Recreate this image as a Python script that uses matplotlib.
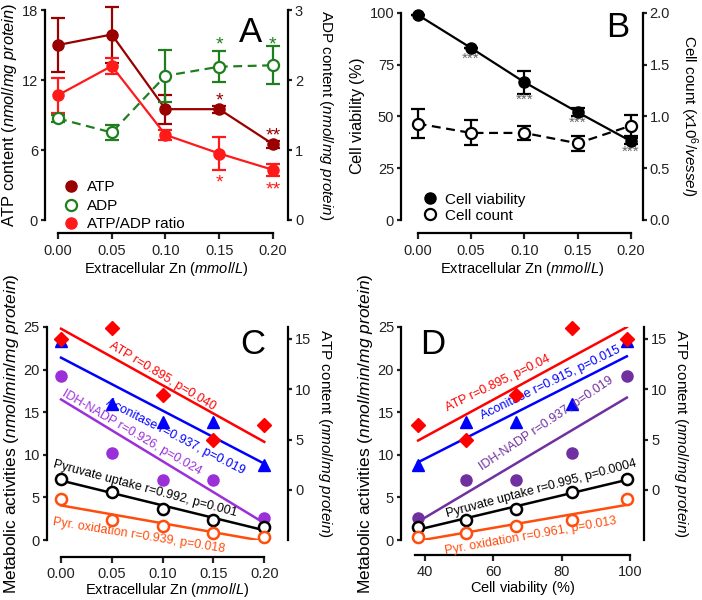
import numpy as np
import matplotlib
matplotlib.use("Agg")
import matplotlib.pyplot as plt
from matplotlib.lines import Line2D

plt.rcParams["font.family"] = ["Liberation Sans", "DejaVu Sans"]
plt.rcParams["mathtext.fontset"] = "custom"
plt.rcParams["mathtext.rm"] = "Liberation Sans"
plt.rcParams["mathtext.it"] = "Liberation Sans:italic"
plt.rcParams["font.size"] = 10

zn = [0.00, 0.05, 0.10, 0.15, 0.20]
zn_ticks = ["0.00", "0.05", "0.10", "0.15", "0.20"]

# panel A
atp = [15.0, 15.9, 9.5, 9.5, 6.5]
atp_err = [2.3, 2.4, 1.25, 0.3, 0.3]
adp = [1.45, 1.25, 2.06, 2.19, 2.21]
adp_err = [0.05, 0.1, 0.37, 0.22, 0.27]
ratio = [10.7, 13.2, 7.3, 5.7, 4.3]
ratio_err = [1.5, 0.7, 0.4, 1.4, 0.5]

# panel B
viability = [99.0, 83.0, 66.5, 52.0, 38.0]
viability_err = [0.0, 0.0, 5.5, 2.0, 1.5]
cell_count = [0.93, 0.84, 0.84, 0.74, 0.91]
cell_count_err = [0.14, 0.12, 0.07, 0.07, 0.10]
viability_star_y = [78.0, 58.0, 47.0, 33.0]

# panels C and D
atp_c = [15.0, 16.1, 9.4, 5.0, 6.5]
aconitase = [23.3, 16.0, 13.9, 13.9, 8.8]
idh_nadp = [19.2, 10.2, 7.1, 7.1, 2.6]
pyr_uptake = [7.2, 5.6, 3.6, 2.4, 1.5]
pyr_oxidation = [4.8, 2.3, 1.6, 0.8, 0.3]

W, H = 702, 600
fig = plt.figure(figsize=(7.02, 6.0), dpi=100)


def box(x0, x1, ytop, ybot):
    return [x0 / W, 1 - ybot / H, (x1 - x0) / W, (ybot - ytop) / H]


def style(ax, offset):
    ax.spines["top"].set_visible(False)
    ax.spines["right"].set_visible(False)
    for s in ["left", "bottom"]:
        ax.spines[s].set_linewidth(1.6)
    ax.spines["bottom"].set_position(("outward", offset))
    ax.tick_params(axis="x", width=1.6, length=4, labelsize=10.5, colors="#222222")
    ax.tick_params(axis="y", width=1.6, length=3, pad=2, labelsize=10.5, colors="#222222")


def style_right(ax2):
    ax2.spines["top"].set_visible(False)
    ax2.spines["left"].set_visible(False)
    ax2.spines["bottom"].set_visible(False)
    ax2.spines["right"].set_linewidth(1.6)
    ax2.tick_params(width=1.6, length=3, pad=2, labelsize=10.5, colors="#222222")


xlab_zn = r"Extracellular Zn $\mathit{(mmol/L)}$"

# ---------------- A ----------------
dark_red = "#990000"
green = "#1f7f1f"
red = "#ff1a1a"
axA = fig.add_axes(box(45, 288, 10, 220))
style(axA, 9.5)
axA.set_xlim(-0.0121, 0.214)
axA.set_ylim(0, 18)
axA.spines["bottom"].set_bounds(0, 0.2)
axA.set_xticks(zn, zn_ticks)
axA.set_yticks([0, 6, 12, 18])
axA.errorbar(zn, atp, yerr=atp_err, color=dark_red, marker="o", ms=8, lw=1.6,
             capsize=5, capthick=1.6, elinewidth=1.6, clip_on=False, zorder=3)
axA.errorbar(zn, ratio, yerr=ratio_err, color=red, marker="o", ms=8, lw=1.6,
             capsize=5, capthick=1.6, elinewidth=1.6, clip_on=False, zorder=3)
axA.set_ylabel(r"ATP content $\mathit{(nmol/mg\ protein)}$", fontsize=11.8, labelpad=2)
axA.set_xlabel(xlab_zn, fontsize=10.5, labelpad=2)
axA2 = axA.twinx()
style_right(axA2)
axA2.set_ylim(0, 3)
axA2.set_yticks([0, 1, 2, 3])
axA2.errorbar(zn, adp, yerr=adp_err, color=green, marker="o", mfc="white", mec=green,
              mew=1.6, ms=8, lw=1.6, ls=(0, (4, 2.5)), capsize=5, capthick=1.6,
              elinewidth=1.6, clip_on=False, zorder=3)
axA2.set_ylabel(r"ADP content $\mathit{(nmol/mg\ protein)}$", fontsize=11,
                rotation=270, va="bottom", labelpad=10)
axA.text(0.179, 16.1, "A", fontsize=25, ha="center", va="center")
for xi, yi, s in [(0.15, 10.2, "*"), (0.20, 7.2, "**")]:
    axA.text(xi, yi, s, color=dark_red, fontsize=14, ha="center", va="center")
for xi, yi, s in [(0.15, 3.2, "*"), (0.20, 2.6, "**")]:
    axA.text(xi, yi, s, color=red, fontsize=14, ha="center", va="center")
for xi, yi, s in [(0.15, 2.5, "*"), (0.20, 2.5, "*")]:
    axA2.text(xi, yi, s, color=green, fontsize=14, ha="center", va="center")
hA = [Line2D([], [], color=dark_red, marker="o", ls="none", ms=8),
      Line2D([], [], color=green, marker="o", mfc="white", mew=1.6, ls="none", ms=8),
      Line2D([], [], color=red, marker="o", ls="none", ms=8)]
axA.legend(hA, ["ATP", "ADP", "ATP/ADP ratio"], loc="lower left", frameon=False,
           bbox_to_anchor=(0.02, -0.12), handlelength=1, handletextpad=0.5,
           labelspacing=0.3, fontsize=11)

# ---------------- B ----------------
axB = fig.add_axes(box(401, 642.7, 12.7, 220))
style(axB, 9.5)
axB.set_xlim(-0.0156, 0.211)
axB.set_ylim(0, 100)
axB.spines["bottom"].set_bounds(0, 0.2)
axB.set_xticks(zn, zn_ticks)
axB.set_yticks([0, 25, 50, 75, 100])
axB.errorbar(zn, viability, yerr=viability_err, color="black", marker="o", ms=8, lw=1.6,
             capsize=5, capthick=1.6, elinewidth=1.6, clip_on=False, zorder=3)
axB.set_ylabel(r"Cell viability $\mathit{(\%)}$", fontsize=11.8, labelpad=2)
axB.set_xlabel(xlab_zn, fontsize=10.5, labelpad=2)
axB2 = axB.twinx()
style_right(axB2)
axB2.set_ylim(0, 2)
axB2.set_yticks([0, 0.5, 1.0, 1.5, 2.0])
axB2.errorbar(zn, cell_count, yerr=cell_count_err, color="black", marker="o", mfc="white",
              mew=1.6, ms=8, lw=1.6, ls=(0, (4, 2.5)), capsize=5, capthick=1.6,
              elinewidth=1.6, clip_on=False, zorder=3)
axB2.set_ylabel(r"Cell count $\mathit{(x10^6/vessel)}$", fontsize=11,
                rotation=270, va="bottom", labelpad=6)
axB.text(0.188, 93, "B", fontsize=25, ha="center", va="center")
for xi, yi in zip(zn[1:], viability_star_y):
    axB.text(xi, yi, "***", color="#666666", fontsize=11, ha="center", va="center")
hB = [Line2D([], [], color="black", marker="o", ls="none", ms=8),
      Line2D([], [], color="black", marker="o", mfc="white", mew=1.6, ls="none", ms=8)]
axB.legend(hB, ["Cell viability", "Cell count"], loc="lower left", frameon=False,
           bbox_to_anchor=(0.03, -0.08), handlelength=1, handletextpad=0.5,
           labelspacing=0.15, fontsize=11)

# ---------------- C and D ----------------
c_red = "#ff0000"
c_blue = "#0000ff"
c_orange = "#ff4d0d"
ylab_C = r"Metabolic activities $\mathit{(nmol/min/mg\ protein)}$"
ylab_R = r"ATP content $\mathit{(nmol/mg\ protein)}$"


def metab_panel(axbox, x, xlim, xbounds, xticks, xticklabels, offset, purple, notes,
                letter, letter_pos, xlabel):
    ax = fig.add_axes(axbox)
    style(ax, offset)
    ax.set_xlim(*xlim)
    ax.set_ylim(0, 25)
    ax.spines["bottom"].set_bounds(*xbounds)
    ax.set_xticks(xticks, xticklabels)
    ax.set_yticks([0, 5, 10, 15, 20, 25])
    ax2 = ax.twinx()
    style_right(ax2)
    ax2.set_ylim(-4.97, 16.19)
    ax2.set_yticks([0, 5, 10, 15])
    xs = np.array([min(x), max(x)])
    series = [
        (ax, aconitase, c_blue, dict(marker="^", ms=8, color=c_blue)),
        (ax, idh_nadp, purple, dict(marker="o", ms=8, color=purple)),
        (ax, pyr_uptake, "black", dict(marker="o", ms=8, mfc="white", mec="black", mew=1.8)),
        (ax, pyr_oxidation, c_orange, dict(marker="o", ms=8, mfc="white", mec=c_orange, mew=1.8)),
        (ax2, atp_c, c_red, dict(marker="D", ms=7, color=c_red)),
    ]
    for a, y, col, mk in series:
        k, b = np.polyfit(x, y, 1)
        a.plot(xs, k * xs + b, color=col, lw=1.8, zorder=2)
        a.plot(x, y, ls="none", clip_on=False, zorder=3, **mk)
    for (tx, ty, s, col, rot) in notes:
        ax.text(tx, ty, s, color=col, fontsize=9, rotation=rot, ha="center", va="center",
                rotation_mode="anchor")
    ax.text(letter_pos[0], letter_pos[1], letter, fontsize=25, ha="center", va="center")
    ax.set_ylabel(ylab_C, fontsize=12.5, labelpad=2)
    ax.set_xlabel(xlabel, fontsize=10.5, labelpad=0)
    ax2.set_ylabel(ylab_R, fontsize=11, rotation=270, va="bottom", labelpad=3)
    return ax


notes_C = [
    (0.10, 19.2, "ATP r=0.895, p=0.040", c_red, -31),
    (0.112, 12.1, "Aconitase r=0.937, p=0.019", c_blue, -27),
    (0.07, 12.6, "IDH-NADP r=0.926, p=0.024", "#9b30d9", -30),
    (0.083, 6.0, "Pyruvate uptake r=0.992, p=0.001", "black", -15),
    (0.077, 0.5, "Pyr. oxidation r=0.939, p=0.018", c_orange, -9),
]
metab_panel(box(46.7, 288.3, 327, 540), zn, (-0.0141, 0.2236), (0, 0.2), zn, zn_ticks,
            12, "#9b30d9", notes_C, "C", (0.189, 22.9), xlab_zn)

notes_D = [
    (61.3, 18.4, "ATP r=0.895, p=0.04", c_red, 26),
    (76.8, 18.4, "Aconitase r=0.915, p=0.015", c_blue, 26),
    (75.4, 13.6, "IDH-NADP r=0.937, p=0.019", "#7030a0", 34),
    (74.0, 6.0, "Pyruvate uptake r=0.995, p=0.0004", "black", 15),
    (71.0, 0.5, "Pyr. oxidation r=0.961, p=0.013", c_orange, 10),
]
metab_panel(box(401, 644.3, 327, 540), viability, (33.0, 104.1), (37, 100), [40, 60, 80, 100],
            ["40", "60", "80", "100"], 10.8, "#7030a0", notes_D, "D", (42.3, 22.9),
            r"Cell viability $\mathit{(\%)}$")

fig.savefig("out.png", dpi=100)
